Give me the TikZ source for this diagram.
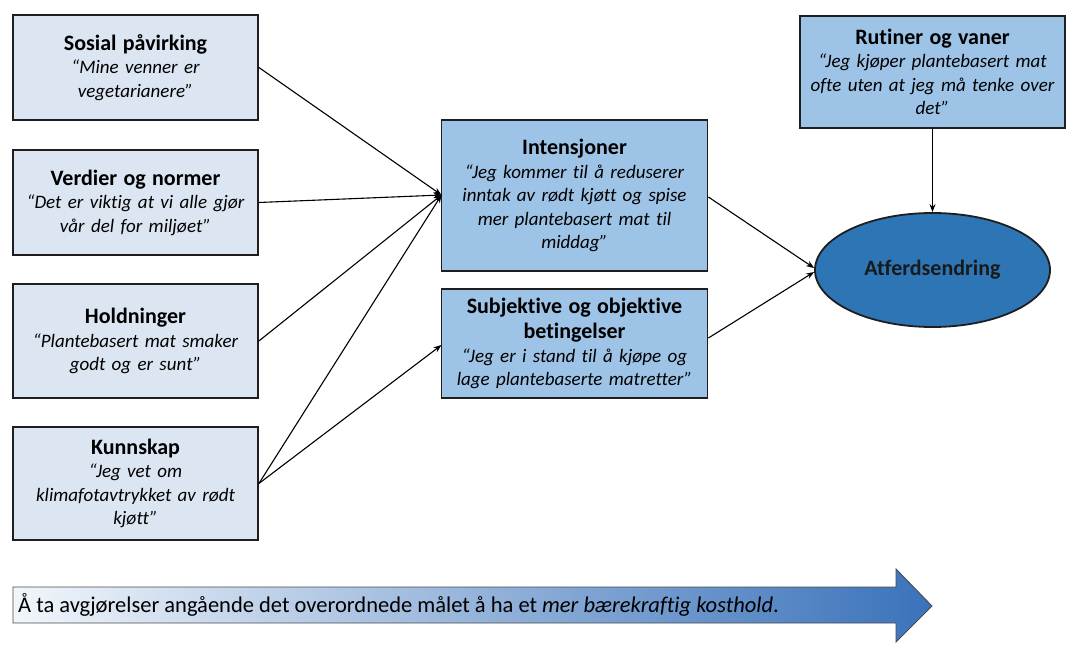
\documentclass[tikz,border=0pt]{standalone}
\usepackage{fontspec}
\setmainfont{Carlito}[Ligatures={NoCommon}]
\usetikzlibrary{shapes.geometric,arrows.meta}
\definecolor{lightbox}{HTML}{DCE6F2}
\definecolor{midbox}{HTML}{9DC3E6}
\definecolor{ellblue}{HTML}{2E75B6}
\definecolor{arrowblue}{HTML}{3A72BA}
\definecolor{arrowlight}{HTML}{F2F6FB}
\definecolor{edge}{HTML}{1E1E1E}
\newcommand\ttl[1]{{\fontsize{22}{26}\selectfont\bfseries #1}}
\newcommand\qt[1]{{\itshape #1}}
\begin{document}
\begin{tikzpicture}[x=1pt,y=-1pt,
  box/.style={draw=edge, line width=1.8pt, inner sep=0pt, align=center,
    font=\fontsize{19}{23.5}\selectfont},
  leftbox/.style={box, fill=lightbox, minimum width=245pt, text width=240pt},
  midbox/.style={box, fill=midbox, minimum width=266pt, text width=262pt},
  conn/.style={line width=1.1pt, -{Stealth[length=8pt,width=6pt]}},
]
\useasboundingbox (0,0) rectangle (1080,658);

\node[leftbox, minimum height=105pt] (sos) at (135.5,67.5)
  {\ttl{Sosial påvirking}\\\qt{“Mine venner er}\\\qt{vegetarianere”}};
\node[leftbox, minimum height=105pt] (ver) at (135.5,202.5)
  {\ttl{Verdier og normer}\\\qt{“Det er viktig at vi alle gjør}\\\qt{vår del for miljøet”}};
\node[leftbox, minimum height=114pt] (hol) at (135.5,341)
  {\ttl{Holdninger}\\\qt{“Plantebasert mat smaker}\\\qt{godt og er sunt”}};
\node[leftbox, minimum height=113pt] (kun) at (135.5,483.5)
  {\ttl{Kunnskap}\\\qt{“Jeg vet om}\\\qt{klimafotavtrykket av rødt}\\\qt{kjøtt”}};

\node[midbox, minimum height=151pt] (int) at (574.5,195.5)
  {\ttl{Intensjoner}\\\qt{“Jeg kommer til å reduserer}\\\qt{inntak av rødt kjøtt og spise}\\\qt{mer plantebasert mat til}\\\qt{middag”}};
\node[midbox, minimum height=109pt] (sub) at (574.5,343.5)
  {\ttl{Subjektive og objektive}\\[2pt]\ttl{betingelser}\\\qt{“Jeg er i stand til å kjøpe og}\\\qt{lage plantebaserte matretter”}};

\node[box, fill=midbox, minimum width=265pt, text width=262pt, minimum height=112pt] (rut) at (932.5,72)
  {\ttl{Rutiner og vaner}\\\qt{“Jeg kjøper plantebasert mat}\\\qt{ofte uten at jeg må tenke over}\\\qt{det”}};

\node[draw=edge, line width=1.8pt, inner sep=0pt, ellipse, fill=ellblue, minimum width=235pt, minimum height=114pt,
  text=black!90] (atf) at (932.5,270) {\ttl{Atferdsendring}};

\coordinate (intin) at (441.5,195);
\coordinate (subin) at (441.5,345);
\draw[conn] (sos.east) -- (intin);
\draw[conn] (ver.east) -- (intin);
\draw[conn] (hol.east) -- (intin);
\draw[conn] (kun.east) -- (intin);
\draw[conn] (kun.east) -- (subin);
\draw[conn] (int.east |- 0,197) -- (atf.west |- 0,268);
\draw[conn] (sub.east |- 0,338) -- (atf.west |- 0,272);
\draw[conn] (rut.south) -- (atf.north);

\draw[draw=edge!80, line width=0.9pt, left color=arrowlight, right color=arrowblue]
  (13,587) -- (896,587) -- (896,569) -- (932,606) -- (896,642) -- (896,623) -- (13,623) -- cycle;
\node[anchor=west, inner sep=0pt, font=\fontsize{22.5}{26}\selectfont] (goal) at (18,605)
  {Å ta avgjørelser angående det overordnede målet å ha et \textit{mer bærekraftig kosthold}.};
\end{tikzpicture}
\end{document}
